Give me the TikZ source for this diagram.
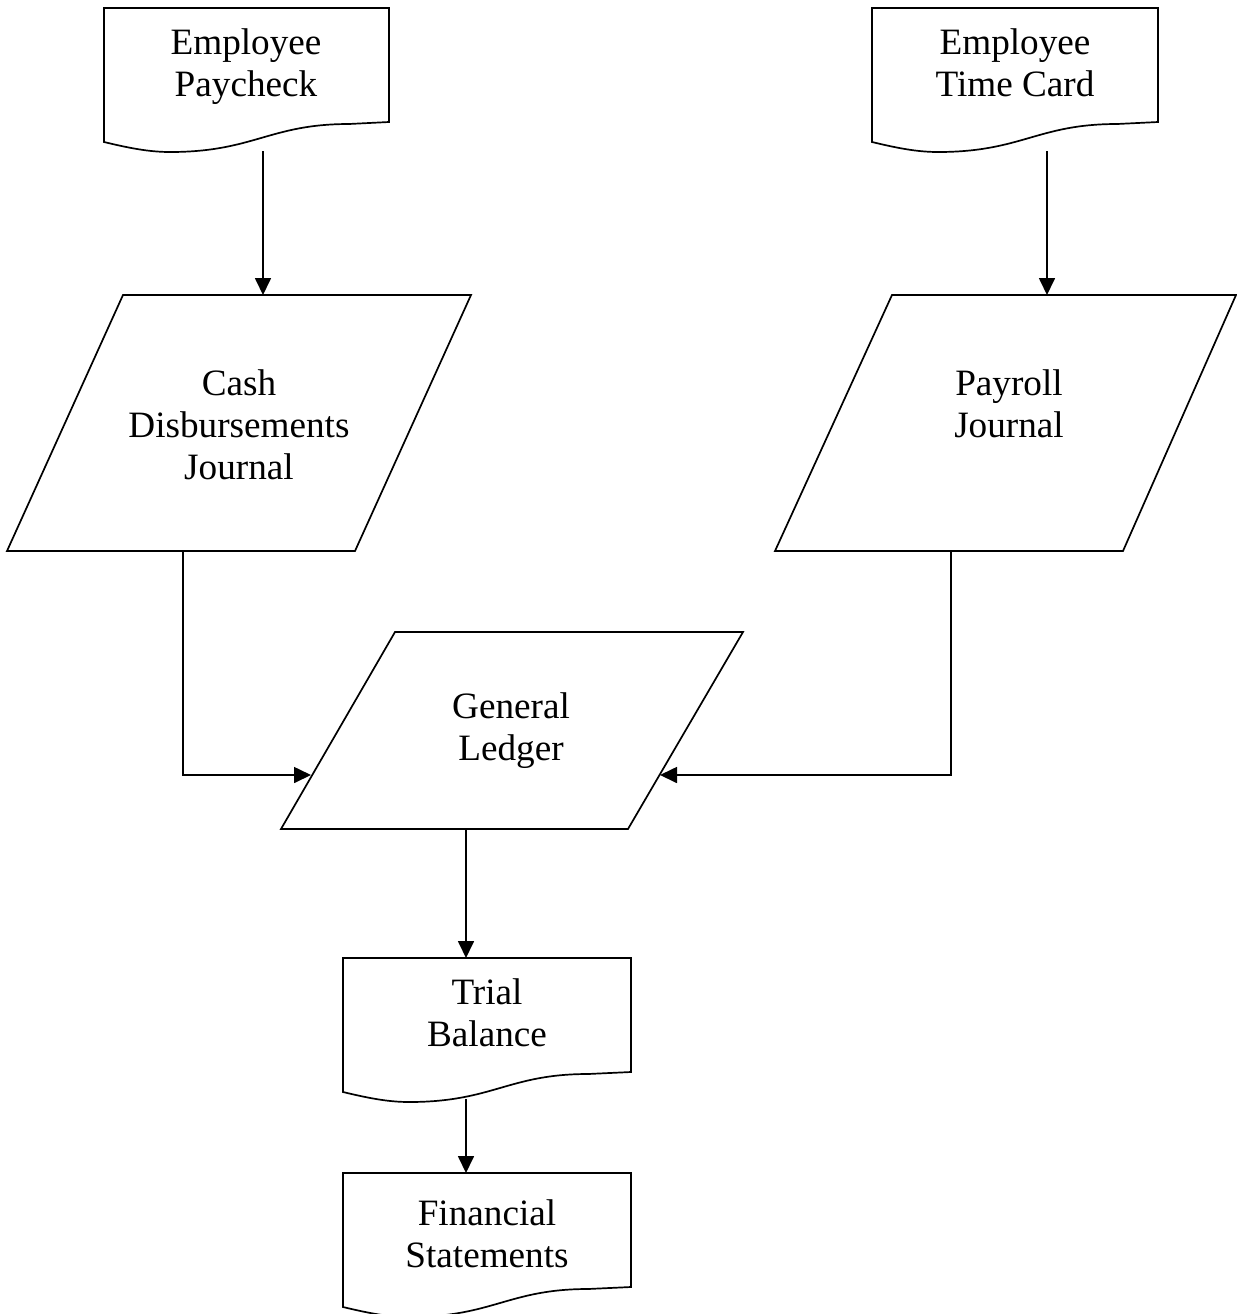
\documentclass[tikz,border=0pt]{standalone}
\usepackage{fontspec}
\setmainfont{Liberation Serif}
\usetikzlibrary{arrows.meta}
\begin{document}
\begin{tikzpicture}[x=0.5pt,y=-0.5pt,
  outline/.style={draw=black,line width=0.85pt,line join=miter},
  flow/.style={draw=black,line width=0.85pt,-{Triangle[length=8.5pt,width=8pt]}},
  label/.style={align=center,anchor=base,inner sep=0pt,font=\fontsize{18.6}{21}\selectfont},
  docpic/.pic={\draw[outline] (0,0) -- (0,134) .. controls (25,140) and (45,144) .. (66,144)
      .. controls (150,144) and (165,116) .. (245,116) -- (#1,114) -- (#1,0) -- cycle;}]
\useasboundingbox (0,0) rectangle (1237,1314);

% documents
\pic at (104,8) {docpic=285};
\node[label] (ep) at (246,96) {Employee\\Paycheck};
\coordinate (ep-out) at (263,151);

\pic at (872,8) {docpic=286};
\node[label] (etc) at (1015,96) {Employee\\Time Card};
\coordinate (etc-out) at (1047,151);

% journals
\draw[outline] (123,295) -- (471,295) -- (355,551) -- (7,551) -- cycle;
\node[label] (cdj) at (239,479) {Cash\\Disbursements\\Journal};
\coordinate (cdj-in) at (263,295);
\coordinate (cdj-out) at (183,551);

\draw[outline] (892,295) -- (1236,295) -- (1123,551) -- (775,551) -- cycle;
\node[label] (pj) at (1009,437) {Payroll\\Journal};
\coordinate (pj-in) at (1047,295);
\coordinate (pj-out) at (951,551);

% general ledger
\draw[outline] (395,632) -- (743,632) -- (628,829) -- (281,829) -- cycle;
\node[label] (gl) at (511,760) {General\\Ledger};
\coordinate (gl-left) at (311,775);
\coordinate (gl-right) at (660,775);
\coordinate (gl-out) at (466,829);

% trial balance and statements
\pic at (343,958) {docpic=288};
\node[label] (tb) at (487,1046) {Trial\\Balance};
\coordinate (tb-in) at (466,958);
\coordinate (tb-out) at (466,1099);

\pic at (343,1173) {docpic=288};
\node[label] (fs) at (487,1267) {Financial\\Statements};
\coordinate (fs-in) at (466,1173);

% connectors
\draw[flow] (ep-out) -- (cdj-in);
\draw[flow] (etc-out) -- (pj-in);
\draw[flow] (cdj-out) |- (gl-left);
\draw[flow] (pj-out) |- (gl-right);
\draw[flow] (gl-out) -- (tb-in);
\draw[flow] (tb-out) -- (fs-in);
\end{tikzpicture}
\end{document}
